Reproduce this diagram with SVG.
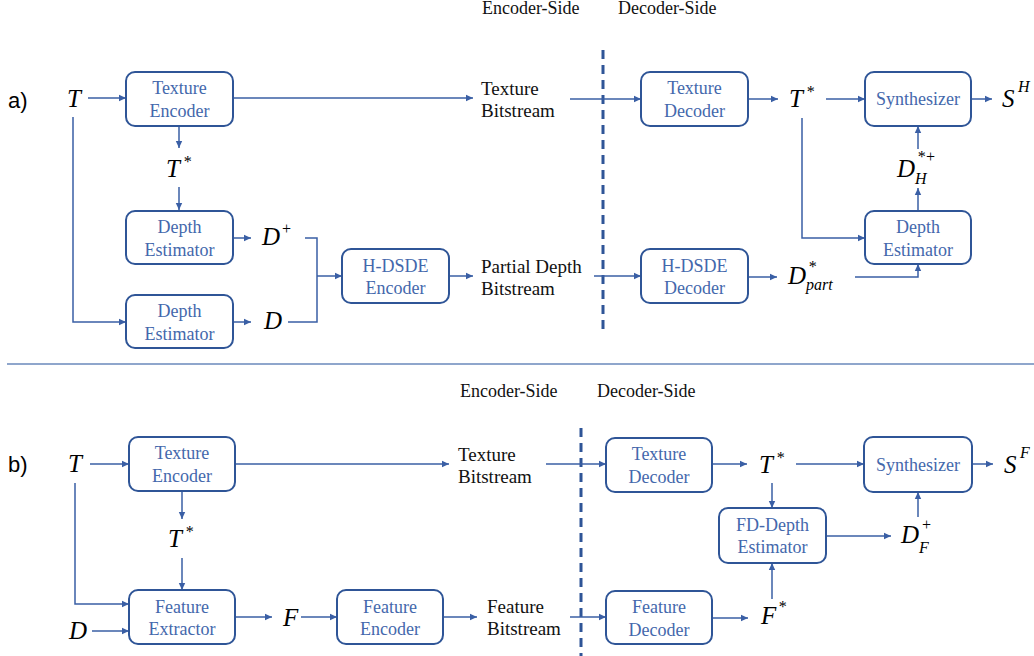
<svg xmlns="http://www.w3.org/2000/svg" width="1034" height="656" viewBox="0 0 1034 656">
<defs>
<marker id="ah" markerWidth="8" markerHeight="8" refX="7" refY="4" orient="auto" markerUnits="userSpaceOnUse">
<path d="M0,0.8 L7,4 L0,7.2 Z" fill="#3A5FA5"/>
</marker>
<style>
.box{fill:#fff;stroke:#2F5597;stroke-width:2}
.nt{font-family:"Liberation Serif",serif;font-size:18px;fill:#4468AC;text-anchor:middle}
.lb{font-family:"Liberation Serif",serif;font-size:19px;fill:#111}
.hd{font-family:"Liberation Serif",serif;font-size:18px;fill:#111}
.m{font-family:"Liberation Serif",serif;font-style:italic;font-size:25px;fill:#000}
.ms{font-family:"Liberation Serif",serif;font-style:italic;font-size:16px;fill:#000}
.pl{font-family:"Liberation Sans",sans-serif;font-size:22px;fill:#000}
.c{fill:none;stroke:#3A5FA5;stroke-width:1.5}
.ca{fill:none;stroke:#3A5FA5;stroke-width:1.5;marker-end:url(#ah)}
.dash{stroke:#2F5597;stroke-width:3;stroke-dasharray:9 6;fill:none}
</style>
</defs>
<rect width="1034" height="656" fill="#fff"/>

<!-- part labels and headers -->
<text class="pl" x="8" y="108">a)</text>
<text class="pl" x="8" y="472">b)</text>
<text class="hd" x="482" y="14">Encoder-Side</text>
<text class="hd" x="618" y="14">Decoder-Side</text>
<text class="hd" x="460" y="397">Encoder-Side</text>
<text class="hd" x="597" y="397">Decoder-Side</text>
<line x1="7" y1="364" x2="1034" y2="364" stroke="#8FA6CC" stroke-width="2"/>
<line class="dash" x1="603" y1="50" x2="603" y2="332"/>
<line class="dash" x1="581" y1="428" x2="581" y2="656"/>

<!-- connectors -->
<g id="connectors">
<!-- a) -->
<line class="ca" x1="88" y1="98" x2="126" y2="98"/>
<polyline class="ca" points="73,117 73,322 126,322"/>
<line class="ca" x1="179" y1="126" x2="179" y2="148"/>
<line class="ca" x1="179" y1="187" x2="179" y2="210"/>
<line class="ca" x1="233" y1="238" x2="251" y2="238"/>
<line class="ca" x1="233" y1="322" x2="251" y2="322"/>
<polyline class="c" points="305,238 317,238 317,322 288,322"/>
<line class="ca" x1="317" y1="276" x2="342" y2="276"/>
<line class="ca" x1="449" y1="276" x2="473" y2="276"/>
<line class="ca" x1="233" y1="98" x2="473" y2="98"/>
<line class="ca" x1="570" y1="99" x2="641" y2="99"/>
<line class="ca" x1="594" y1="276" x2="641" y2="276"/>
<line class="ca" x1="748" y1="99" x2="778" y2="99"/>
<line class="ca" x1="826" y1="99" x2="865" y2="99"/>
<line class="ca" x1="971" y1="99" x2="992" y2="99"/>
<polyline class="ca" points="802,118 802,238 865,238"/>
<line class="ca" x1="918" y1="211" x2="918" y2="188"/>
<line class="ca" x1="918" y1="149" x2="918" y2="126"/>
<line class="ca" x1="748" y1="277" x2="777" y2="277"/>
<polyline class="ca" points="855,277 918,277 918,264"/>
<!-- b) -->
<line class="ca" x1="90" y1="464" x2="129" y2="464"/>
<polyline class="ca" points="75,483 75,604 129,604"/>
<line class="ca" x1="92" y1="631" x2="129" y2="631"/>
<line class="ca" x1="182" y1="491" x2="182" y2="519"/>
<line class="ca" x1="182" y1="558" x2="182" y2="590"/>
<line class="ca" x1="235" y1="617" x2="272" y2="617"/>
<line class="ca" x1="301" y1="617" x2="337" y2="617"/>
<line class="ca" x1="443" y1="617" x2="477" y2="617"/>
<line class="ca" x1="235" y1="464" x2="449" y2="464"/>
<line class="ca" x1="546" y1="464" x2="606" y2="464"/>
<line class="ca" x1="570" y1="617" x2="606" y2="617"/>
<line class="ca" x1="712" y1="464" x2="747" y2="464"/>
<line class="ca" x1="796" y1="464" x2="864" y2="464"/>
<line class="ca" x1="972" y1="464" x2="993" y2="464"/>
<line class="ca" x1="772" y1="483" x2="772" y2="508"/>
<line class="ca" x1="826" y1="536" x2="891" y2="536"/>
<line class="ca" x1="918" y1="517" x2="918" y2="492"/>
<line class="ca" x1="712" y1="618" x2="748" y2="618"/>
<line class="ca" x1="772" y1="599" x2="772" y2="563"/>
</g>

<!-- a) nodes -->
<g id="a-texture-encoder"><rect class="box" x="126" y="72" width="107" height="54" rx="9"/><text class="nt" x="179.5" y="94">Texture</text><text class="nt" x="179.5" y="117">Encoder</text></g>
<g id="a-depth-est-1"><rect class="box" x="126" y="211" width="107" height="53" rx="9"/><text class="nt" x="179.5" y="233">Depth</text><text class="nt" x="179.5" y="256">Estimator</text></g>
<g id="a-depth-est-2"><rect class="box" x="126" y="295" width="107" height="53" rx="9"/><text class="nt" x="179.5" y="317">Depth</text><text class="nt" x="179.5" y="340">Estimator</text></g>
<g id="a-hdsde-encoder"><rect class="box" x="342" y="249" width="107" height="54" rx="9"/><text class="nt" x="395.5" y="272">H-DSDE</text><text class="nt" x="395.5" y="294">Encoder</text></g>
<g id="a-texture-decoder"><rect class="box" x="641" y="72" width="107" height="54" rx="9"/><text class="nt" x="694.5" y="94">Texture</text><text class="nt" x="694.5" y="117">Decoder</text></g>
<g id="a-hdsde-decoder"><rect class="box" x="641" y="249" width="107" height="54" rx="9"/><text class="nt" x="694.5" y="272">H-DSDE</text><text class="nt" x="694.5" y="294">Decoder</text></g>
<g id="a-synthesizer"><rect class="box" x="865" y="72" width="106" height="54" rx="9"/><text class="nt" x="918" y="105">Synthesizer</text></g>
<g id="a-depth-est-dec"><rect class="box" x="865" y="211" width="106" height="53" rx="9"/><text class="nt" x="918" y="233">Depth</text><text class="nt" x="918" y="256">Estimator</text></g>

<!-- a) labels -->
<g id="a-labels">
<text class="m" x="67" y="107">T</text>
<text class="m" x="166" y="177">T</text><text class="ms" x="183" y="167">*</text>
<text class="m" x="262" y="245">D</text><text class="ms" x="281" y="234" font-style="normal">+</text>
<text class="m" x="264" y="329">D</text>
<text class="lb" x="481" y="95">Texture</text><text class="lb" x="481" y="117">Bitstream</text>
<text class="lb" x="481" y="273">Partial Depth</text><text class="lb" x="481" y="295">Bitstream</text>
<text class="m" x="789" y="107">T</text><text class="ms" x="806" y="97">*</text>
<text class="m" x="1002" y="107">S</text><text class="ms" x="1018" y="92">H</text>
<text class="m" x="897" y="177">D</text><text class="ms" x="917" y="162">*</text><text class="ms" x="925" y="162" font-style="normal">+</text><text class="ms" x="915" y="184">H</text>
<text class="m" x="788" y="284">D</text><text class="ms" x="808" y="272">*</text><text class="ms" x="806" y="290">part</text>
</g>

<!-- b) nodes -->
<g id="b-texture-encoder"><rect class="box" x="129" y="437" width="106" height="54" rx="9"/><text class="nt" x="182" y="459">Texture</text><text class="nt" x="182" y="482">Encoder</text></g>
<g id="b-feature-extractor"><rect class="box" x="129" y="590" width="106" height="54" rx="9"/><text class="nt" x="182" y="613">Feature</text><text class="nt" x="182" y="635">Extractor</text></g>
<g id="b-feature-encoder"><rect class="box" x="337" y="590" width="106" height="54" rx="9"/><text class="nt" x="390" y="613">Feature</text><text class="nt" x="390" y="635">Encoder</text></g>
<g id="b-texture-decoder"><rect class="box" x="606" y="438" width="106" height="54" rx="9"/><text class="nt" x="659" y="460">Texture</text><text class="nt" x="659" y="483">Decoder</text></g>
<g id="b-feature-decoder"><rect class="box" x="606" y="591" width="106" height="53" rx="9"/><text class="nt" x="659" y="613">Feature</text><text class="nt" x="659" y="636">Decoder</text></g>
<g id="b-fd-depth-estimator"><rect class="box" x="719" y="508" width="107" height="55" rx="9"/><text class="nt" x="772.5" y="531">FD-Depth</text><text class="nt" x="772.5" y="553">Estimator</text></g>
<g id="b-synthesizer"><rect class="box" x="864" y="437" width="108" height="55" rx="9"/><text class="nt" x="918" y="471">Synthesizer</text></g>

<!-- b) labels -->
<g id="b-labels">
<text class="m" x="68" y="472">T</text>
<text class="m" x="168" y="547">T</text><text class="ms" x="185" y="537">*</text>
<text class="m" x="69" y="639">D</text>
<text class="m" x="283" y="626">F</text>
<text class="lb" x="458" y="461">Texture</text><text class="lb" x="458" y="483">Bitstream</text>
<text class="lb" x="487" y="613">Feature</text><text class="lb" x="487" y="635">Bitstream</text>
<text class="m" x="759" y="473">T</text><text class="ms" x="776" y="463">*</text>
<text class="m" x="1004" y="473">S</text><text class="ms" x="1020" y="458">F</text>
<text class="m" x="901" y="543">D</text><text class="ms" x="921" y="530" font-style="normal">+</text><text class="ms" x="919" y="553">F</text>
<text class="m" x="761" y="624">F</text><text class="ms" x="778" y="612">*</text>
</g>
</svg>
